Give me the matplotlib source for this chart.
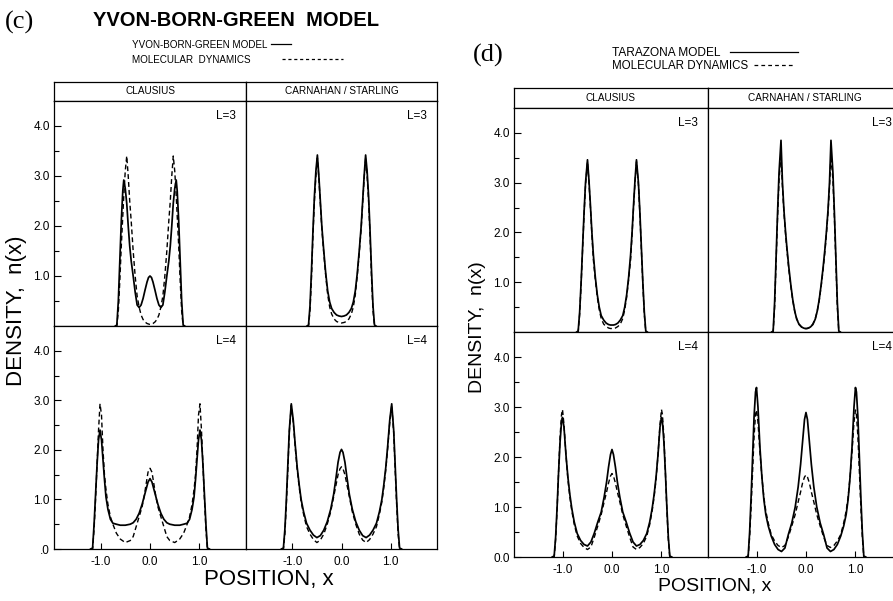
import matplotlib.pyplot as plt
from matplotlib.lines import Line2D

plt.rcParams.update({
    "font.family": ["Liberation Sans", "DejaVu Sans"],
    "axes.linewidth": 0.9,
})

W, H = 893, 601

# ---------- (c) Yvon-Born-Green model vs molecular dynamics ----------
c3_clau_x = [-0.70, -0.67, -0.64, -0.61, -0.58, -0.55, -0.53, -0.50, -0.47, -0.44, -0.41,
             -0.38, -0.34, -0.30, -0.26, -0.22, -0.18, -0.14, -0.10, -0.06, -0.03, 0.00,
             0.03, 0.06, 0.10, 0.14, 0.18, 0.22, 0.26, 0.30, 0.34, 0.38, 0.41, 0.44,
             0.47, 0.50, 0.53, 0.55, 0.58, 0.61, 0.64, 0.67, 0.70]
c3_clau_model = [0.00, 0.02, 0.50, 1.30, 2.10, 2.70, 2.92, 2.75, 2.45, 2.00, 1.60,
                 1.30, 1.00, 0.68, 0.42, 0.37, 0.42, 0.55, 0.72, 0.88, 0.97, 1.00,
                 0.97, 0.88, 0.72, 0.55, 0.42, 0.37, 0.42, 0.68, 1.00, 1.30, 1.60, 2.00,
                 2.45, 2.75, 2.92, 2.70, 2.10, 1.30, 0.50, 0.02, 0.00]
c3_clau_md = [0.00, 0.00, 0.30, 0.90, 1.60, 2.20, 2.60, 3.10, 3.40, 3.00, 2.50,
              2.10, 1.50, 1.00, 0.60, 0.38, 0.22, 0.13, 0.08, 0.05, 0.04, 0.03,
              0.04, 0.05, 0.08, 0.13, 0.22, 0.38, 0.60, 1.00, 1.50, 2.10, 2.50, 3.00,
              3.40, 3.10, 2.60, 2.20, 1.60, 0.90, 0.30, 0.00, 0.00]

c3_cs_x = [-0.70, -0.67, -0.64, -0.61, -0.58, -0.55, -0.52, -0.49, -0.46, -0.43, -0.40,
           -0.36, -0.32, -0.28, -0.24, -0.20, -0.15, -0.10, -0.05, 0.00, 0.05, 0.10,
           0.15, 0.20, 0.24, 0.28, 0.32, 0.36, 0.40, 0.43, 0.46, 0.49, 0.52, 0.55,
           0.58, 0.61, 0.64, 0.67, 0.70]
c3_cs_model = [0.00, 0.02, 0.40, 1.10, 1.90, 2.60, 3.10, 3.42, 3.00, 2.50, 2.00,
               1.50, 1.05, 0.70, 0.48, 0.35, 0.27, 0.22, 0.20, 0.19, 0.20, 0.22,
               0.27, 0.35, 0.48, 0.70, 1.05, 1.50, 2.00, 2.50, 3.00, 3.42, 3.10, 2.60,
               1.90, 1.10, 0.40, 0.02, 0.00]
c3_cs_md = [0.00, 0.00, 0.30, 0.95, 1.80, 2.50, 3.00, 3.36, 2.95, 2.45, 1.95,
            1.45, 1.00, 0.62, 0.38, 0.24, 0.14, 0.09, 0.07, 0.06, 0.07, 0.09,
            0.14, 0.24, 0.38, 0.62, 1.00, 1.45, 1.95, 2.45, 2.95, 3.36, 3.00, 2.50,
            1.80, 0.95, 0.30, 0.00, 0.00]

c4_clau_x = [-1.20, -1.16, -1.13, -1.10, -1.07, -1.04, -1.01, -0.98, -0.95, -0.92, -0.89,
             -0.85, -0.80, -0.75, -0.68, -0.60, -0.50, -0.40, -0.34, -0.28, -0.22, -0.16,
             -0.12, -0.08, -0.04, 0.00, 0.04, 0.08, 0.12, 0.16, 0.22, 0.28, 0.34, 0.40,
             0.50, 0.60, 0.68, 0.75, 0.80, 0.85, 0.89, 0.92, 0.95, 0.98, 1.01, 1.04,
             1.07, 1.10, 1.13, 1.16, 1.20]
c4_clau_model = [0.00, 0.02, 0.50, 1.10, 1.70, 2.20, 2.40, 2.20, 1.80, 1.40, 1.05,
                 0.80, 0.60, 0.52, 0.50, 0.48, 0.48, 0.50, 0.53, 0.60, 0.72, 0.90,
                 1.05, 1.20, 1.35, 1.42, 1.35, 1.20, 1.05, 0.90, 0.72, 0.60, 0.53, 0.50,
                 0.48, 0.48, 0.50, 0.52, 0.60, 0.80, 1.05, 1.40, 1.80, 2.20, 2.40, 2.20,
                 1.70, 1.10, 0.50, 0.02, 0.00]
c4_clau_md = [0.00, 0.00, 0.40, 1.00, 1.70, 2.40, 2.93, 2.70, 2.00, 1.50, 1.20,
              0.90, 0.65, 0.50, 0.32, 0.20, 0.13, 0.17, 0.25, 0.45, 0.65, 0.85,
              1.05, 1.30, 1.55, 1.63, 1.55, 1.30, 1.05, 0.85, 0.65, 0.45, 0.25, 0.17,
              0.13, 0.20, 0.32, 0.50, 0.65, 0.90, 1.20, 1.50, 2.00, 2.70, 2.93, 2.40,
              1.70, 1.00, 0.40, 0.00, 0.00]

c4_cs_x = [-1.22, -1.18, -1.15, -1.12, -1.09, -1.06, -1.02, -0.98, -0.94, -0.90, -0.86,
           -0.82, -0.77, -0.71, -0.64, -0.57, -0.50, -0.43, -0.36, -0.29, -0.22, -0.16,
           -0.11, -0.07, -0.03, 0.00, 0.03, 0.07, 0.11, 0.16, 0.22, 0.29, 0.36, 0.43,
           0.50, 0.57, 0.64, 0.71, 0.77, 0.82, 0.86, 0.90, 0.94, 0.98, 1.02, 1.06,
           1.09, 1.12, 1.15, 1.18, 1.22]
c4_cs_model = [0.00, 0.02, 0.40, 1.00, 1.70, 2.40, 2.93, 2.60, 2.10, 1.65, 1.30,
               1.00, 0.75, 0.52, 0.38, 0.28, 0.23, 0.27, 0.38, 0.55, 0.80, 1.10,
               1.45, 1.75, 1.95, 2.01, 1.95, 1.75, 1.45, 1.10, 0.80, 0.55, 0.38, 0.27,
               0.23, 0.28, 0.38, 0.52, 0.75, 1.00, 1.30, 1.65, 2.10, 2.60, 2.93, 2.40,
               1.70, 1.00, 0.40, 0.02, 0.00]
c4_cs_md = [0.00, 0.00, 0.30, 0.90, 1.60, 2.35, 2.90, 2.55, 2.05, 1.60, 1.25,
            0.95, 0.70, 0.45, 0.30, 0.19, 0.13, 0.18, 0.30, 0.50, 0.75, 1.05,
            1.30, 1.50, 1.62, 1.66, 1.62, 1.50, 1.30, 1.05, 0.75, 0.50, 0.30, 0.18,
            0.13, 0.19, 0.30, 0.45, 0.70, 0.95, 1.25, 1.60, 2.05, 2.55, 2.90, 2.35,
            1.60, 0.90, 0.30, 0.00, 0.00]

# ---------- (d) Tarazona model vs molecular dynamics ----------
d3_clau_x = [-0.72, -0.69, -0.66, -0.63, -0.60, -0.57, -0.54, -0.50, -0.47, -0.44, -0.41,
             -0.38, -0.34, -0.30, -0.26, -0.22, -0.17, -0.12, -0.07, -0.03, 0.00, 0.03,
             0.07, 0.12, 0.17, 0.22, 0.26, 0.30, 0.34, 0.38, 0.41, 0.44, 0.47, 0.50,
             0.54, 0.57, 0.60, 0.63, 0.66, 0.69, 0.72]
d3_clau_model = [0.00, 0.02, 0.40, 1.00, 1.70, 2.40, 3.00, 3.46, 3.05, 2.55, 2.00,
                 1.55, 1.10, 0.75, 0.50, 0.33, 0.24, 0.18, 0.15, 0.14, 0.14, 0.14,
                 0.15, 0.18, 0.24, 0.33, 0.50, 0.75, 1.10, 1.55, 2.00, 2.55, 3.05, 3.46,
                 3.00, 2.40, 1.70, 1.00, 0.40, 0.02, 0.00]
d3_clau_md = [0.00, 0.00, 0.35, 0.95, 1.65, 2.35, 2.95, 3.42, 3.00, 2.50, 1.95,
              1.45, 1.05, 0.70, 0.45, 0.27, 0.16, 0.11, 0.08, 0.07, 0.07, 0.07,
              0.08, 0.11, 0.16, 0.27, 0.45, 0.70, 1.05, 1.45, 1.95, 2.50, 3.00, 3.42,
              2.95, 2.35, 1.65, 0.95, 0.35, 0.00, 0.00]

d3_cs_x = [-0.70, -0.67, -0.64, -0.61, -0.58, -0.55, -0.51, -0.48, -0.45, -0.42, -0.39,
           -0.35, -0.31, -0.27, -0.23, -0.19, -0.14, -0.09, -0.05, -0.02, 0.00, 0.02,
           0.05, 0.09, 0.14, 0.19, 0.23, 0.27, 0.31, 0.35, 0.39, 0.42, 0.45, 0.48,
           0.51, 0.55, 0.58, 0.61, 0.64, 0.67, 0.70]
d3_cs_model = [0.00, 0.02, 0.60, 1.50, 2.40, 3.20, 3.85, 3.00, 2.45, 2.05, 1.70,
               1.30, 0.95, 0.65, 0.42, 0.26, 0.15, 0.10, 0.08, 0.07, 0.07, 0.07,
               0.08, 0.10, 0.15, 0.26, 0.42, 0.65, 0.95, 1.30, 1.70, 2.05, 2.45, 3.00,
               3.85, 3.20, 2.40, 1.50, 0.60, 0.02, 0.00]
d3_cs_md = [0.00, 0.00, 0.50, 1.40, 2.30, 3.05, 3.55, 2.90, 2.40, 2.00, 1.65,
            1.25, 0.92, 0.63, 0.42, 0.27, 0.16, 0.10, 0.08, 0.07, 0.07, 0.07,
            0.08, 0.10, 0.16, 0.27, 0.42, 0.63, 0.92, 1.25, 1.65, 2.00, 2.40, 2.90,
            3.55, 3.05, 2.30, 1.40, 0.50, 0.00, 0.00]

d4_x = [-1.22, -1.18, -1.15, -1.12, -1.09, -1.06, -1.03, -1.01, -0.98, -0.94, -0.90,
        -0.86, -0.82, -0.77, -0.71, -0.64, -0.57, -0.50, -0.43, -0.36, -0.29, -0.22,
        -0.16, -0.11, -0.07, -0.03, 0.00, 0.03, 0.07, 0.11, 0.16, 0.22, 0.29, 0.36,
        0.43, 0.50, 0.57, 0.64, 0.71, 0.77, 0.82, 0.86, 0.90, 0.94, 0.98, 1.01,
        1.03, 1.06, 1.09, 1.12, 1.15, 1.18, 1.22]
d4_clau_model = [0.00, 0.02, 0.40, 1.00, 1.70, 2.30, 2.70, 2.79, 2.60, 2.05, 1.60,
                 1.25, 0.97, 0.70, 0.47, 0.33, 0.25, 0.22, 0.30, 0.48, 0.70, 0.90,
                 1.20, 1.50, 1.80, 2.05, 2.15, 2.05, 1.80, 1.50, 1.20, 0.90, 0.70, 0.48,
                 0.30, 0.22, 0.25, 0.33, 0.47, 0.70, 0.97, 1.25, 1.60, 2.05, 2.60, 2.79,
                 2.70, 2.30, 1.70, 1.00, 0.40, 0.02, 0.00]
d4_clau_md = [0.00, 0.00, 0.35, 0.95, 1.70, 2.40, 2.85, 2.95, 2.65, 2.05, 1.55,
              1.20, 0.92, 0.65, 0.42, 0.27, 0.19, 0.15, 0.20, 0.40, 0.62, 0.85,
              1.10, 1.30, 1.48, 1.62, 1.67, 1.62, 1.48, 1.30, 1.10, 0.85, 0.62, 0.40,
              0.20, 0.15, 0.19, 0.27, 0.42, 0.65, 0.92, 1.20, 1.55, 2.05, 2.65, 2.95,
              2.85, 2.40, 1.70, 0.95, 0.35, 0.00, 0.00]
d4_cs_model = [0.00, 0.02, 0.50, 1.20, 2.00, 2.80, 3.30, 3.39, 3.00, 2.20, 1.60,
               1.15, 0.85, 0.62, 0.42, 0.25, 0.15, 0.11, 0.18, 0.45, 0.68, 1.00,
               1.40, 1.85, 2.30, 2.75, 2.89, 2.75, 2.30, 1.85, 1.40, 1.00, 0.68, 0.45,
               0.18, 0.11, 0.15, 0.25, 0.42, 0.62, 0.85, 1.15, 1.60, 2.20, 3.00, 3.39,
               3.30, 2.80, 2.00, 1.20, 0.50, 0.02, 0.00]
d4_cs_md = [0.00, 0.00, 0.40, 1.00, 1.70, 2.40, 2.85, 2.94, 2.70, 2.10, 1.60,
            1.20, 0.92, 0.68, 0.45, 0.32, 0.23, 0.19, 0.23, 0.40, 0.62, 0.85,
            1.10, 1.30, 1.48, 1.60, 1.64, 1.60, 1.48, 1.30, 1.10, 0.85, 0.62, 0.40,
            0.23, 0.19, 0.23, 0.32, 0.45, 0.68, 0.92, 1.20, 1.60, 2.10, 2.70, 2.94,
            2.85, 2.40, 1.70, 1.00, 0.40, 0.00, 0.00]

closures = ["CLAUSIUS", "CARNAHAN / STARLING"]
y_major = [1, 2, 3, 4]
y_minor = [0.5, 1.5, 2.5, 3.5]
x_ticks = [-1, 0, 1]
x_ticklabels = ["-1.0", "0.0", "1.0"]

fig = plt.figure(figsize=(W / 100, H / 100), dpi=100)


def px_axes(x0, y0, x1, y1):
    # axes placed by pixel box (top-left origin)
    return fig.add_axes([x0 / W, 1 - y1 / H, (x1 - x0) / W, (y1 - y0) / H])


def px_text(x, y, s, **kw):
    fig.text(x / W, 1 - y / H, s, **kw)


def panel(ax, x, model, md, label, xlim, left, bottom, zero_label):
    ax.plot(x, md, color="black", lw=1.0, dashes=(3.5, 2.2))
    ax.plot(x, model, color="black", lw=1.25)
    ax.set_xlim(*xlim)
    ax.set_ylim(0, 4.5)
    ax.annotate(label, xy=(1, 1), xycoords="axes fraction", xytext=(-10, -15),
                textcoords="offset pixels", ha="right", va="center", fontsize=8.5)
    if left:
        ticks = ([0] if bottom else []) + y_major
        labels = ([zero_label] if bottom else []) + [f"{t:.1f}" for t in y_major]
        ax.set_yticks(ticks)
        ax.set_yticklabels(labels, fontsize=8.5)
        ax.set_yticks(y_minor, minor=True)
        ax.tick_params(axis="y", which="major", direction="in", length=5, width=0.8, pad=3)
        ax.tick_params(axis="y", which="minor", direction="in", length=3.5, width=0.8)
    else:
        ax.set_yticks([])
    if bottom:
        ax.set_xticks(x_ticks)
        ax.set_xticklabels(x_ticklabels, fontsize=8.5)
        ax.tick_params(axis="x", direction="in", length=4, width=0.8, pad=5)
    else:
        ax.set_xticks([])


def header(x0, x1, y0, y1, name):
    ax = px_axes(x0, y0, x1, y1)
    ax.set_xticks([])
    ax.set_yticks([])
    ax.text(0.5, 0.5, name, ha="center", va="center", fontsize=7.2, transform=ax.transAxes)


# ----- figure (c) -----
c_cols = [(54, 246), (246, 437)]
c_rows = [(101, 326), (326, 549)]
c_data = [
    [(c3_clau_x, c3_clau_model, c3_clau_md, "L=3"), (c3_cs_x, c3_cs_model, c3_cs_md, "L=3")],
    [(c4_clau_x, c4_clau_model, c4_clau_md, "L=4"), (c4_cs_x, c4_cs_model, c4_cs_md, "L=4")],
]
for j, (x0, x1) in enumerate(c_cols):
    header(x0, x1, 82, 101, closures[j])
    for i, (y0, y1) in enumerate(c_rows):
        ax = px_axes(x0, y0, x1, y1)
        xs, ym, yd, lab = c_data[i][j]
        panel(ax, xs, ym, yd, lab, (-1.94, 1.94), j == 0, i == 1, ".0")

px_text(5, 22, "(c)", family="Liberation Serif", fontsize=19, va="center")
px_text(93, 20, "YVON-BORN-GREEN  MODEL", fontsize=14.5, fontweight="bold", va="center")
px_text(132, 45, "YVON-BORN-GREEN MODEL", fontsize=7.1, va="center")
px_text(132, 60, "MOLECULAR  DYNAMICS", fontsize=7.1, va="center")
fig.add_artist(Line2D([271 / W, 291 / W], [1 - 44 / H, 1 - 44 / H], color="black", lw=0.9))
fig.add_artist(Line2D([282 / W, 343 / W], [1 - 59 / H, 1 - 59 / H], color="black", lw=0.9,
                      dashes=(2.5, 2.2)))
px_text(17, 311, "DENSITY,  n(x)", fontsize=16, rotation=90, ha="center", va="center")
px_text(269, 580, "POSITION, x", fontsize=16, ha="center", va="center")

# ----- figure (d) -----
d_cols = [(514, 708), (708, 902)]
d_rows = [(108, 332), (332, 557)]
d_data = [
    [(d3_clau_x, d3_clau_model, d3_clau_md, "L=3"), (d3_cs_x, d3_cs_model, d3_cs_md, "L=3")],
    [(d4_x, d4_clau_model, d4_clau_md, "L=4"), (d4_x, d4_cs_model, d4_cs_md, "L=4")],
]
for j, (x0, x1) in enumerate(d_cols):
    header(x0, x1, 88, 108, closures[j])
    for i, (y0, y1) in enumerate(d_rows):
        ax = px_axes(x0, y0, x1, y1)
        xs, ym, yd, lab = d_data[i][j]
        panel(ax, xs, ym, yd, lab, (-2.0, 1.96), j == 0, i == 1, "0.0")

px_text(473, 55, "(d)", family="Liberation Serif", fontsize=19, va="center")
px_text(612, 53, "TARAZONA MODEL", fontsize=8.6, va="center")
px_text(612, 66, "MOLECULAR DYNAMICS", fontsize=8.3, va="center")
fig.add_artist(Line2D([730 / W, 798 / W], [1 - 52 / H, 1 - 52 / H], color="black", lw=0.9))
fig.add_artist(Line2D([754 / W, 795 / W], [1 - 65 / H, 1 - 65 / H], color="black", lw=0.9,
                      dashes=(3, 2.5)))
px_text(477, 327, "DENSITY,  n(x)", fontsize=14, rotation=90, ha="center", va="center")
px_text(715, 586, "POSITION, x", fontsize=14, ha="center", va="center")

fig.savefig("out.png", dpi=100)
